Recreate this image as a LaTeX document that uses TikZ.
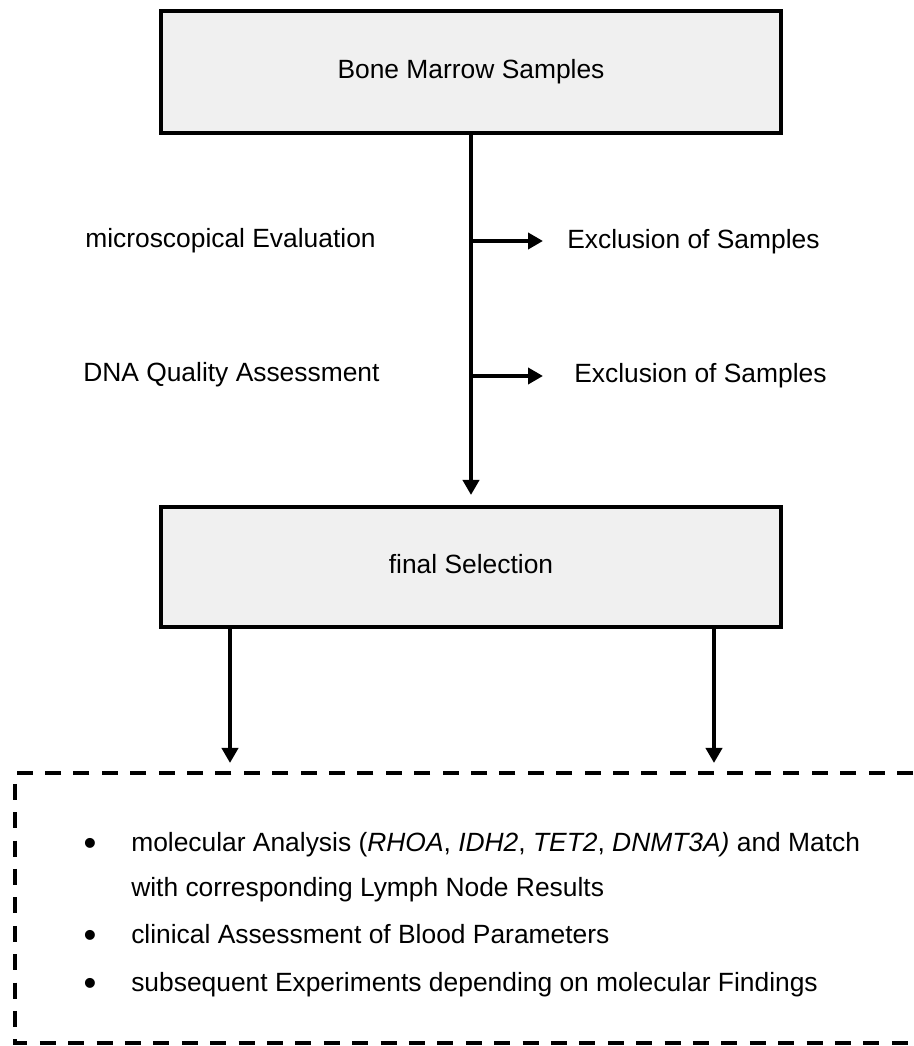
\documentclass[tikz,border=0pt]{standalone}
\usepackage{fontspec}
\setmainfont{Liberation Sans}
\usetikzlibrary{arrows.meta}

\begin{document}
\begin{tikzpicture}[font=\fontsize{18.77}{22}\selectfont,x=1cm,y=1cm,
    >={Triangle[length=0.375cm,width=0.4cm]},
    caja/.style={draw,line width=0.1cm,fill=black!6,minimum width=15.5cm,
        text height=13.5pt,text depth=3.9pt,inner sep=0pt},
    etiqueta/.style={inner sep=0pt},
    flecha/.style={->,line width=0.1cm}]
    \useasboundingbox (0,0) rectangle (22.825,26.15);

    % Cajas principales.
    \node[caja,minimum height=3.05cm] (marrow) at (11.775,24.35) {Bone Marrow Samples};
    \node[caja,minimum height=3cm] (final) at (11.775,11.975) {final Selection};

    % Eje vertical y exclusiones laterales.
    \coordinate (cut1) at (11.775,20.125);
    \coordinate (cut2) at (11.775,16.75);
    \coordinate (tip1) at (13.575,20.125);
    \coordinate (tip2) at (13.575,16.75);
    \draw[flecha,shorten >=0.25cm] (marrow.south) -- (final.north);
    \draw[flecha] (cut1) -- (tip1);
    \draw[flecha] (cut2) -- (tip2);
    \node[etiqueta,anchor=base west] (micro) at (2.125,19.95) {microscopical Evaluation};
    \node[etiqueta,anchor=base west] (dna) at (2.075,16.6) {DNA Quality Assessment};
    \node[etiqueta,anchor=base west] (excl1) at (14.175,19.925) {Exclusion of Samples};
    \node[etiqueta,anchor=base west] (excl2) at (14.35,16.575) {Exclusion of Samples};

    % Salidas hacia el recuadro inferior.
    \coordinate (downL) at (5.75,7.075);
    \coordinate (downR) at (17.85,7.075);
    \draw[flecha] (final.south -| downL) -- (downL);
    \draw[flecha] (final.south -| downR) -- (downR);

    % Recuadro discontinuo (abierto por la derecha).
    \draw[line width=0.11cm,dash pattern=on 0.4cm off 0.31cm]
        (22.825,6.825) -- (0.375,6.825) -- (0.375,0.075) -- (22.825,0.075);

    % Lista de pasos siguientes.
    \foreach \yy/\nm in {4.85/dot1,2.55/dot2,1.35/dot3}{
        \node[etiqueta,anchor=base,font=\fontsize{26}{28}\selectfont]
            (\nm) at (2.25,\yy-0.09) {\textbullet};
    }
    \node[etiqueta,anchor=base west] (item1) at (3.275,4.85)
        {molecular Analysis (\textit{RHOA}, \textit{IDH2}, \textit{TET2}, \textit{DNMT3A)} and Match};
    \node[etiqueta,anchor=base west] (item1b) at (3.275,3.725)
        {with corresponding Lymph Node Results};
    \node[etiqueta,anchor=base west] (item2) at (3.275,2.55)
        {clinical Assessment of Blood Parameters};
    \node[etiqueta,anchor=base west] (item3) at (3.275,1.35)
        {subsequent Experiments depending on molecular Findings};
\end{tikzpicture}
\end{document}
